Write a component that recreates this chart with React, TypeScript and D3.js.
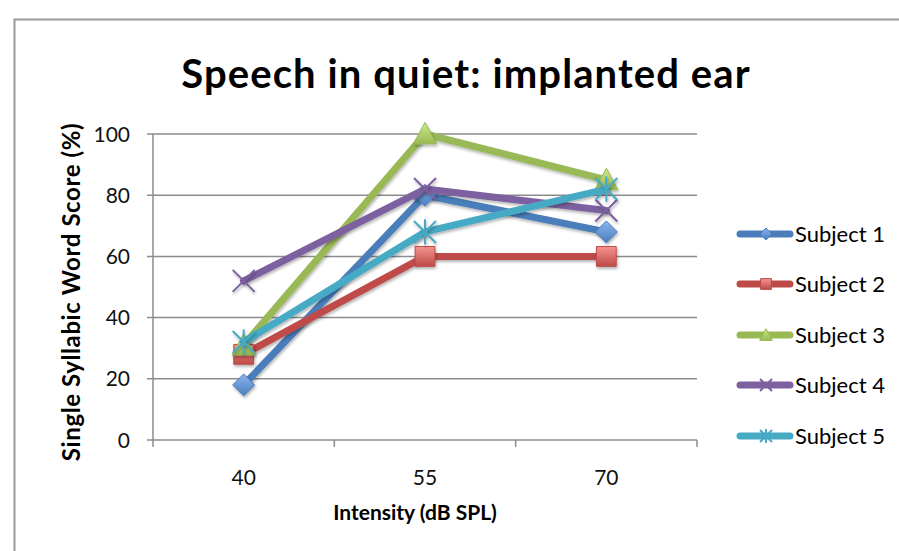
import React from "react";
import { scaleBand, scaleLinear, line } from "d3";

// Datos
const intensities = ["40", "55", "70"];
const subjects = ["Subject 1", "Subject 2", "Subject 3", "Subject 4", "Subject 5"];
const subject1 = [18, 80, 68];
const subject2 = [28, 60, 60];
const subject3 = [31, 100, 85];
const subject4 = [52, 82, 75];
const subject5 = [32, 68, 82];
const yTicks = [0, 20, 40, 60, 80, 100];

const seriesValues = [subject1, subject2, subject3, subject4, subject5];
const lineColors = ["#4A7EBB", "#BE4B48", "#98B954", "#7D60A0", "#46AAC5"];
const fillLight = ["#8AB4F0", "#F5948F", "#CDEA8A", "#A68BCB", "#7FD3EA"];
const markers = ["diamond", "square", "triangle", "x", "star"];

const W = 899;
const H = 551;
const margin = { left: 153, right: 202, top: 134, bottom: 111 };
const font = "Lato, 'Open Sans', sans-serif";

// Formas de los marcadores (r = medio ancho)
const markerPath = (kind: string, r: number) => {
  if (kind === "diamond") return `M0,${-r}L${r},0L0,${r}L${-r},0Z`;
  if (kind === "square") return `M${-r * 0.9},${-r * 0.9}H${r * 0.9}V${r * 0.9}H${-r * 0.9}Z`;
  if (kind === "triangle") return `M0,${-r * 1.05}L${r * 1.05},${r * 0.9}L${-r * 1.05},${r * 0.9}Z`;
  if (kind === "x") return `M${-r},${-r}L${r},${r}M${-r},${r}L${r},${-r}`;
  return `M${-r},${-r}L${r},${r}M${-r},${r}L${r},${-r}M0,${-r * 1.15}L0,${r * 1.15}`;
};

const Marker: React.FC<{ kind: string; i: number; x: number; y: number; r: number }> = ({ kind, i, x, y, r }) => {
  const open = kind === "x" || kind === "star";
  return (
    <path
      transform={`translate(${x},${y})`}
      d={markerPath(kind, r)}
      fill={open ? "none" : `url(#grad${i})`}
      stroke={lineColors[i]}
      strokeWidth={open ? 2 : 1}
    />
  );
};

const App: React.FC = () => {
  const plotW = W - margin.left - margin.right;
  const plotH = H - margin.top - margin.bottom;

  const xScale = scaleBand<string>().domain(intensities).range([margin.left, margin.left + plotW]);
  const yScale = scaleLinear().domain([0, 100]).range([margin.top + plotH, margin.top]);

  const cx = (k: string) => xScale(k)! + xScale.bandwidth() / 2;
  const lineGen = line<number>()
    .x((_, j) => cx(intensities[j]))
    .y((d) => yScale(d));

  const legendY = [234, 284, 335, 385, 436];

  return (
    <svg width={W} height={H} style={{ position: "absolute", left: 0, top: 0, background: "#fff" }} fontFamily={font}>
      <defs>
        {lineColors.map((c, i) => (
          <linearGradient key={i} id={`grad${i}`} x1="0" y1="0" x2="0" y2="1">
            <stop offset="0" stopColor={fillLight[i]} />
            <stop offset="1" stopColor={c} />
          </linearGradient>
        ))}
        <filter id="shadow" x="-50%" y="-50%" width="200%" height="200%">
          <feDropShadow dx="1" dy="2" stdDeviation="1.5" floodColor="#000" floodOpacity="0.3" />
        </filter>
      </defs>

      {/* Marco */}
      <rect x={14.5} y={19.5} width={W} height={H} fill="none" stroke="#9a9a9a" strokeWidth={2} />

      {/* Título */}
      <text x={466} y={88} textAnchor="middle" fontSize={40} fontWeight="bold" letterSpacing={1.1} fill="#000">
        Speech in quiet: implanted ear
      </text>

      {/* Cuadrícula y eje Y */}
      {yTicks.map((t) => (
        <g key={t}>
          <line x1={margin.left - 6} x2={margin.left + plotW} y1={yScale(t)} y2={yScale(t)} stroke="#8c8c8c" strokeWidth={1.5} />
          <text x={130} y={yScale(t)} dy="0.36em" textAnchor="end" fontSize={21} fill="#111">
            {t}
          </text>
        </g>
      ))}

      <line x1={margin.left} x2={margin.left} y1={margin.top} y2={margin.top + plotH} stroke="#8c8c8c" strokeWidth={1.5} />
      {[...intensities.map((k) => xScale(k)!), margin.left + plotW].map((x, i) => (
        <line key={i} x1={x} x2={x} y1={margin.top + plotH} y2={margin.top + plotH + 7} stroke="#8c8c8c" strokeWidth={1.5} />
      ))}
      {intensities.map((k) => (
        <text key={k} x={cx(k)} y={485} textAnchor="middle" fontSize={21} fill="#111">
          {k}
        </text>
      ))}

      {/* Títulos de los ejes */}
      <text x={415} y={520} textAnchor="middle" fontSize={21} fontWeight="bold" fill="#000">
        Intensity (dB SPL)
      </text>
      <text transform={`translate(80,${margin.top + plotH / 2 + 5}) rotate(-90)`} textAnchor="middle" fontSize={24} letterSpacing={0.6} fontWeight="bold" fill="#000">
        Single Syllabic Word Score (%)
      </text>

      {/* Series */}
      {seriesValues.map((vals, i) => (
        <g key={i}>
          <path d={lineGen(vals)!} fill="none" stroke={lineColors[i]} strokeWidth={7} strokeLinejoin="round" strokeLinecap="round" filter="url(#shadow)" />
          <g filter="url(#shadow)">
            {vals.map((v, j) => (
              <Marker key={j} kind={markers[i]} i={i} x={cx(intensities[j])} y={yScale(v)} r={11} />
            ))}
          </g>
        </g>
      ))}

      {/* Leyenda */}
      {subjects.map((s, i) => (
        <g key={s}>
          <line x1={740} x2={790} y1={legendY[i]} y2={legendY[i]} stroke={lineColors[i]} strokeWidth={7} strokeLinecap="round" />
          <Marker kind={markers[i]} i={i} x={766} y={legendY[i]} r={6} />
          <text x={795} y={legendY[i]} dy="0.36em" fontSize={22} fill="#000">
            {s}
          </text>
        </g>
      ))}
    </svg>
  );
};

export default App;
